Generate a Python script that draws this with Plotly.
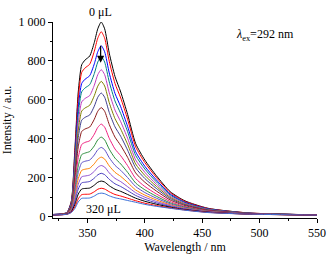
import plotly.graph_objects as go

wavelength = [320, 332, 336, 339, 342, 345, 348, 352, 356, 359, 362, 365, 369,
              374, 379, 385, 392, 400, 410, 422, 435, 455, 490, 550]

c000 = [10, 20, 80, 340, 640, 780, 805, 825, 895, 965, 1000, 965, 840, 720, 640, 525, 375, 290, 210, 128, 80, 42, 18, 8]
c020 = [10, 19, 77, 323, 608, 741, 764, 783, 850, 917, 950, 917, 798, 684, 609, 500, 358, 277, 201, 123, 77, 41, 18, 8]
c040 = [10, 19, 72, 298, 561, 684, 706, 724, 785, 847, 878, 847, 738, 633, 564, 463, 333, 258, 188, 116, 73, 39, 17, 8]
c060 = [10, 18, 68, 279, 526, 641, 661, 678, 735, 794, 822, 794, 692, 594, 529, 436, 314, 244, 178, 111, 70, 38, 17, 8]
c080 = [9, 18, 63, 257, 483, 589, 607, 622, 675, 729, 755, 729, 636, 547, 487, 402, 291, 227, 166, 104, 67, 36, 16, 8]
c100 = [9, 17, 59, 236, 444, 542, 558, 572, 621, 670, 695, 671, 585, 503, 449, 371, 270, 211, 155, 98, 63, 34, 16, 8]
c120 = [9, 16, 55, 216, 406, 495, 510, 522, 567, 613, 635, 613, 535, 461, 412, 341, 250, 195, 144, 92, 60, 33, 16, 8]
c140 = [9, 16, 50, 190, 358, 437, 450, 460, 500, 541, 560, 541, 473, 408, 365, 304, 224, 176, 131, 85, 56, 31, 15, 8]
c160 = [9, 15, 44, 161, 303, 370, 381, 389, 423, 458, 475, 459, 402, 347, 312, 261, 195, 154, 116, 77, 51, 29, 14, 7]
c180 = [9, 14, 40, 138, 260, 318, 326, 334, 363, 394, 408, 394, 346, 300, 270, 227, 172, 137, 104, 70, 48, 27, 14, 7]
c200 = [9, 13, 36, 120, 226, 276, 284, 290, 316, 343, 355, 343, 302, 263, 237, 200, 154, 123, 94, 65, 45, 26, 14, 7]
c220 = [8, 13, 33, 103, 194, 237, 243, 248, 271, 294, 305, 295, 260, 227, 206, 175, 136, 110, 85, 60, 42, 25, 13, 7]
c240 = [8, 12, 30, 88, 166, 204, 208, 213, 232, 253, 262, 254, 224, 196, 179, 153, 122, 99, 77, 56, 40, 24, 13, 7]
c260 = [8, 12, 27, 75, 141, 173, 176, 180, 197, 214, 222, 215, 191, 168, 154, 133, 108, 88, 70, 52, 38, 23, 13, 7]
c280 = [8, 12, 24, 61, 115, 141, 144, 146, 161, 176, 182, 177, 158, 140, 129, 113, 94, 78, 63, 48, 35, 22, 12, 7]
c300 = [8, 11, 22, 48, 91, 112, 114, 115, 127, 140, 145, 141, 127, 113, 105, 94, 81, 68, 56, 44, 33, 21, 12, 7]
c320 = [8, 11, 20, 40, 75, 93, 94, 95, 105, 116, 120, 117, 106, 96, 90, 82, 73, 62, 52, 42, 32, 20, 12, 7]

series = [c000, c020, c040, c060, c080, c100, c120, c140, c160, c180,
          c200, c220, c240, c260, c280, c300, c320]
volumes = ["0", "20", "40", "60", "80", "100", "120", "140", "160", "180",
           "200", "220", "240", "260", "280", "300", "320"]
colors = ["#000000", "#FF0000", "#0000FF", "#008080", "#C03CC0", "#808000",
          "#40408F", "#8B1A1A", "#F0207F", "#2F8F3F", "#6050C8", "#FF8000",
          "#9050D0", "#4B3FBF", "#000000", "#FF0000", "#3A6FD8"]

y_tickvals = [0, 200, 400, 600, 800, 1000]
y_ticktext = ["0", "200", "400", "600", "800", "1 000"]
x_tickvals = [350, 400, 450, 500, 550]

FONT = "Liberation Serif, Times New Roman, serif"

fig = go.Figure()
for vals, vol, col in zip(series, volumes, colors):
    fig.add_trace(go.Scatter(x=wavelength, y=vals, mode="lines",
                             line=dict(color=col, width=1, shape="spline", smoothing=0.6),
                             name=vol + " μL", showlegend=False))

fig.add_annotation(x=361.5, y=1.0, xref="x", yref="paper", yanchor="bottom", yshift=1,
                   text="0 μL", showarrow=False,
                   font=dict(family=FONT, size=12, color="black"))
fig.add_annotation(x=364, y=38, text="320 μL", showarrow=False,
                   font=dict(family=FONT, size=12, color="black"))
fig.add_annotation(x=361.5, y=790, ax=361.5, ay=885, axref="x", ayref="y",
                   xref="x", yref="y", text="", showarrow=True,
                   arrowhead=2, arrowsize=1.2, arrowwidth=1.2, arrowcolor="black")
fig.add_annotation(x=505, y=935, text="<i>λ</i><sub>ex</sub>=292 nm", showarrow=False,
                   font=dict(family=FONT, size=12, color="black"))

fig.update_layout(
    width=333, height=254,
    margin=dict(l=53, r=16, t=22, b=36),
    paper_bgcolor="white", plot_bgcolor="white",
    font=dict(family=FONT, size=12, color="black"),
    xaxis=dict(range=[320, 550], tickvals=x_tickvals, showgrid=False, zeroline=False,
               automargin=False,
               showline=True, linecolor="black", linewidth=1,
               ticks="outside", ticklen=4, tickwidth=1, tickcolor="black",
               minor=dict(dtick=25, tick0=325, ticks="outside", ticklen=2, tickcolor="black"),
               title=dict(text="Wavelength / nm", standoff=2,
                          font=dict(family=FONT, size=12))),
    yaxis=dict(range=[-8, 1000], tickvals=y_tickvals, ticktext=y_ticktext,
               showgrid=False, zeroline=False, automargin=False,
               showline=True, linecolor="black", linewidth=1,
               ticks="outside", ticklen=4, tickwidth=1, tickcolor="black",
               minor=dict(dtick=100, tick0=0, ticks="outside", ticklen=2, tickcolor="black"),
               title=dict(text="Intensity / a.u.", standoff=4,
                          font=dict(family=FONT, size=12))),
)

fig.write_html("out.html", config={"displayModeBar": False},
               post_script="document.body.style.margin='0';document.body.style.overflow='hidden';")
